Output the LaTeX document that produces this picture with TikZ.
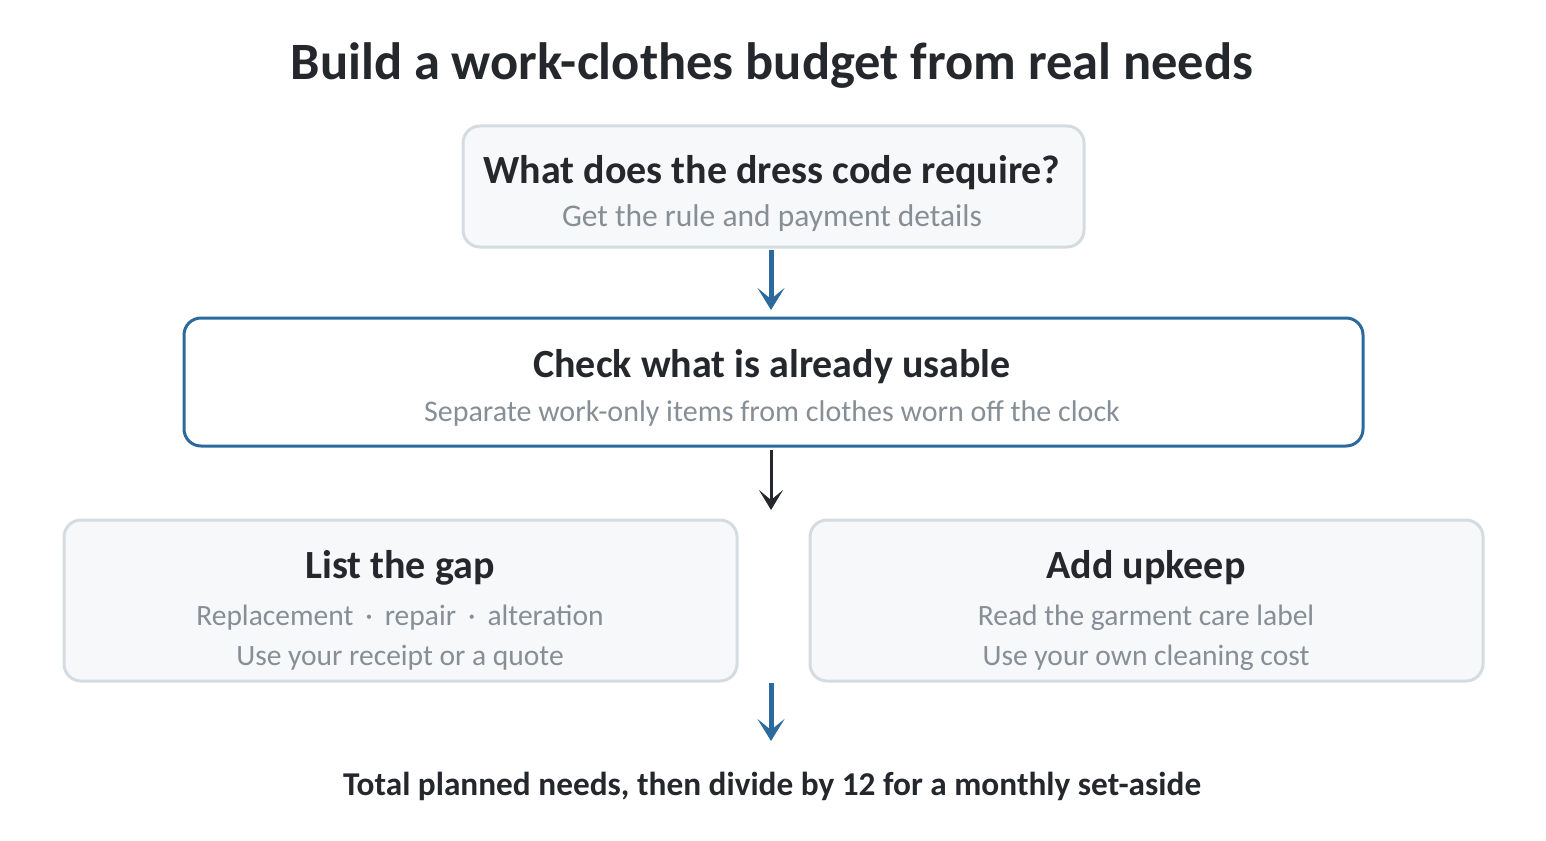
\documentclass[tikz,border=0pt]{standalone}
\usepackage{fontspec}
\setmainfont{Carlito}
\usetikzlibrary{arrows.meta}
\definecolor{ink}{HTML}{24272B}
\definecolor{subgray}{HTML}{868E96}
\definecolor{boxfill}{HTML}{F7F8FA}
\definecolor{boxline}{HTML}{D4DBE1}
\definecolor{accent}{HTML}{2C6A9E}
\newcommand{\sepdot}{\hspace{12pt}·\hspace{12pt}}
\tikzset{
  x=1pt, y=-1pt,
  softbox/.style={draw=boxline, line width=3pt, fill=boxfill, rounded corners=17pt},
  keybox/.style={draw=accent, line width=3pt, fill=white, rounded corners=17pt},
  headtxt/.style={font=\bfseries\fontsize{40}{46}\selectfont, text=ink, inner sep=0pt, anchor=base},
  subtxt/.style={font=\fontsize{29.5}{34}\selectfont, text=subgray, inner sep=0pt, anchor=base},
  bluearrow/.style={draw=accent, fill=accent, line width=5pt, -{Stealth[length=22pt,width=27pt,inset=11pt]}},
  darkarrow/.style={draw=ink, fill=ink, line width=3pt, -{Stealth[length=20pt,width=24pt,inset=10pt]}},
}
\begin{document}
\begin{tikzpicture}
\useasboundingbox (0,0) rectangle (1546,840);
\node[font=\bfseries\fontsize{52.5}{60}\selectfont, text=ink, inner sep=0pt, anchor=base] (title) at (772,80) {Build a work-clothes budget from real needs};

\draw[softbox] (463,126) rectangle (1084,247);
\node[headtxt] (h1) at (772,183) {What does the dress code require?};
\node[subtxt, font=\fontsize{31.5}{36}\selectfont] (s1) at (772,226) {Get the rule and payment details};

\draw[keybox] (184,318) rectangle (1363,446);
\node[headtxt] (h2) at (772,377) {Check what is already usable};
\node[subtxt, font=\fontsize{30}{35}\selectfont] (s2) at (772,421) {Separate work-only items from clothes worn off the clock};

\draw[softbox] (64,520) rectangle (737,681);
\node[headtxt] (h3) at (400,578) {List the gap};
\node[subtxt] (s3a) at (400,625) {Replacement\sepdot repair\sepdot alteration};
\node[subtxt] (s3b) at (400,665) {Use your receipt or a quote};

\draw[softbox] (810,520) rectangle (1483,681);
\node[headtxt] (h4) at (1146,578) {Add upkeep};
\node[subtxt] (s4a) at (1146,625) {Read the garment care label};
\node[subtxt] (s4b) at (1146,665) {Use your own cleaning cost};

\node[font=\bfseries\fontsize{33.3}{38}\selectfont, text=ink, inner sep=0pt, anchor=base] (total) at (772,795) {Total planned needs, then divide by 12 for a monthly set-aside};

\coordinate (a1s) at (771,250);
\coordinate (a1e) at (771,310);
\coordinate (a2s) at (771,450);
\coordinate (a2e) at (771,510);
\coordinate (a3s) at (771,683);
\coordinate (a3e) at (771,741);
\draw[bluearrow] (a1s) -- (a1e);
\draw[darkarrow] (a2s) -- (a2e);
\draw[bluearrow] (a3s) -- (a3e);
\end{tikzpicture}
\end{document}
